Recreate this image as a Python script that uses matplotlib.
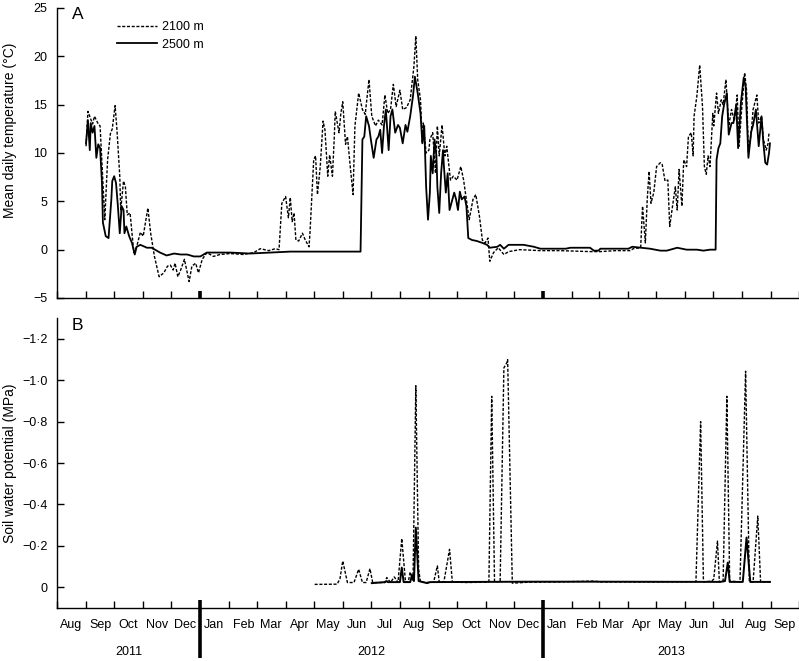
import matplotlib
matplotlib.use('Agg')
import matplotlib.pyplot as plt
import matplotlib.dates as mdates
import matplotlib.ticker as mticker
import numpy as np
import pandas as pd

plt.rcParams['font.family'] = ['Liberation Sans', 'DejaVu Sans']

# ---------------- data (days since 1 Aug 2011) ----------------
START = '2011-08-01'

t2100_days = [31, 33, 38, 40, 44, 46, 51, 54, 57, 59, 62, 64, 67, 68, 71, 73, 75, 78, 82, 85,
              89, 92, 97, 100, 104, 109, 114, 118, 121, 124, 126, 129, 132, 136, 141, 144, 148,
              151, 155, 160, 167, 174, 185, 199, 210, 217, 226, 233, 237, 240, 244, 247, 249,
              251, 253, 255, 258, 262, 265, 269, 270, 274, 276, 278, 281, 284, 286, 289, 291,
              294, 296, 297, 301, 303, 305, 308, 310, 313, 316, 318, 322, 326, 329, 333, 336,
              340, 343, 347, 350, 353, 356, 359, 362, 366, 369, 373, 377, 381, 383, 385, 388,
              390, 391, 394, 397, 398, 401, 404, 406, 408, 411, 414, 416, 420, 423, 427, 431,
              434, 438, 440, 444, 447, 451, 454, 457, 460, 462, 466, 471, 477, 482, 494, 516,
              537, 569, 580, 596, 612, 615, 623, 625, 628, 630, 632, 634, 637, 640, 644, 646,
              649, 652, 654, 657, 660, 662, 664, 667, 669, 672, 674, 677, 679, 680, 683, 686,
              689, 691, 693, 695, 697, 700, 701, 704, 706, 709, 711, 714, 717, 720, 723, 726,
              728, 731, 734, 736, 738, 741, 743, 747, 749, 752, 754, 757, 759, 760]
t2100_vals = [10.7, 14.3, 13.0, 13.8, 13.0, 12.8, 3.1, 9.3, 12.0, 12.5, 14.9, 12.4, 7.6, 4.1,
              7.1, 6.5, 3.6, 3.8, -0.3, 0.3, 1.8, 1.4, 4.3, 1.7, -0.7, -2.8, -2.4, -1.7, -1.6,
              -2.1, -1.4, -2.8, -2.1, -1.0, -3.3, -1.7, -1.4, -2.4, -1.0, -0.3, -0.7, -0.5,
              -0.4, -0.5, -0.3, 0.1, -0.1, 0.1, 0.0, 4.8, 5.5, 3.3, 5.4, 2.9, 3.8, 1.0, 0.9,
              1.7, 1.0, 0.3, 1.7, 9.3, 9.7, 5.7, 8.6, 13.3, 12.4, 7.6, 9.8, 7.6, 11.7, 14.3,
              12.1, 14.1, 15.3, 10.9, 11.7, 8.6, 5.7, 12.8, 16.2, 14.5, 14.0, 17.6, 13.8, 12.8,
              13.4, 12.9, 16.0, 14.1, 14.5, 17.1, 14.8, 16.5, 14.5, 14.7, 15.5, 19.0, 22.1,
              17.6, 15.5, 11.0, 13.1, 10.0, 10.3, 11.4, 12.1, 7.9, 12.8, 9.7, 12.9, 9.7, 10.7,
              7.2, 7.6, 7.2, 8.6, 7.2, 4.5, 3.1, 5.2, 5.7, 3.4, 1.0, 0.7, 1.2, -1.2, -0.3, 0.2,
              -0.5, -0.2, 0.0, -0.1, -0.1, -0.2, -0.2, -0.1, -0.1, 0.1, 0.2, 4.5, 0.7, 5.2,
              8.1, 4.8, 5.9, 8.6, 9.0, 8.8, 7.1, 7.2, 2.4, 4.5, 6.5, 4.1, 8.3, 4.5, 9.3, 8.6,
              11.7, 12.1, 9.7, 13.8, 15.9, 19.1, 14.8, 8.6, 7.8, 9.7, 8.6, 14.1, 12.8, 16.2,
              14.1, 15.5, 15.0, 17.6, 12.8, 14.5, 13.3, 16.0, 10.7, 14.8, 18.3, 16.5, 10.0,
              12.1, 14.5, 16.0, 13.1, 13.8, 11.4, 10.3, 11.0, 12.1]

t2500_days = [31, 33, 35, 36, 38, 40, 42, 44, 46, 48, 49, 52, 55, 58, 59, 61, 63, 65, 67, 69,
              71, 72, 74, 77, 80, 83, 85, 89, 96, 101, 110, 117, 125, 132, 139, 146, 153, 160,
              167, 185, 206, 228, 249, 270, 292, 319, 324, 326, 328, 330, 333, 335, 338, 341,
              343, 345, 347, 349, 351, 354, 356, 358, 361, 364, 366, 369, 372, 374, 377, 380,
              382, 385, 388, 390, 392, 394, 396, 398, 399, 401, 403, 405, 406, 408, 410, 412,
              413, 415, 417, 419, 422, 424, 426, 428, 430, 432, 435, 437, 439, 443, 448, 454,
              459, 462, 470, 473, 477, 482, 498, 509, 516, 543, 548, 569, 573, 578, 580, 610,
              614, 624, 633, 644, 651, 662, 672, 683, 690, 697, 703, 704, 706, 708, 710, 712,
              715, 717, 720, 722, 725, 727, 730, 733, 735, 738, 741, 743, 746, 749, 752, 754,
              756, 758, 760, 761]
t2500_vals = [11.0, 13.4, 10.3, 13.1, 12.1, 12.8, 9.5, 10.9, 10.5, 6.9, 2.8, 1.4, 1.2, 5.2,
              7.1, 7.6, 6.9, 4.5, 1.7, 4.5, 4.1, 1.7, 2.4, 1.4, 0.7, -0.5, 0.3, 0.5, 0.2, 0.2,
              -0.3, -0.6, -0.4, -0.5, -0.5, -0.7, -0.7, -0.3, -0.3, -0.3, -0.4, -0.3, -0.2,
              -0.2, -0.2, -0.2, -0.2, 11.4, 11.7, 13.8, 12.8, 11.4, 9.5, 11.4, 11.7, 12.4,
              10.0, 12.8, 14.5, 10.3, 13.8, 14.5, 12.1, 12.9, 12.6, 11.0, 12.9, 12.2, 13.8,
              15.9, 17.9, 16.2, 14.1, 11.0, 12.8, 6.5, 3.1, 5.9, 9.7, 7.9, 11.4, 9.7, 6.5,
              3.8, 7.9, 10.3, 8.6, 5.9, 7.9, 4.1, 5.2, 5.9, 5.2, 4.1, 6.0, 5.2, 5.5, 4.5, 1.2,
              1.0, 0.9, 0.7, 0.5, 0.2, 0.3, 0.5, 0.1, 0.5, 0.5, 0.3, 0.1, 0.1, 0.2, 0.2, -0.1,
              -0.1, 0.1, 0.1, 0.3, 0.2, 0.1, -0.1, -0.1, 0.2, 0.0, 0.0, -0.1, 0.0, 0.0, 9.3,
              10.5, 11.0, 13.8, 15.0, 16.2, 11.9, 13.1, 13.1, 15.0, 10.5, 15.2, 17.8, 16.9,
              9.5, 12.2, 12.9, 14.5, 10.7, 13.8, 11.0, 9.0, 8.8, 10.0, 11.0]

swp2100_days = [275, 299, 302, 305, 310, 317, 322, 326, 330, 334, 337, 350, 352, 356, 360, 364,
                368, 372, 375, 377, 380, 383, 386, 388, 398, 402, 406, 408, 413, 419, 422, 438,
                459, 461, 464, 467, 473, 477, 480, 481, 486, 505, 537, 573, 580, 633, 682, 687,
                690, 699, 701, 705, 707, 711, 715, 718, 729, 735, 739, 743, 748, 751, 761]
swp2100_vals = [-0.014, -0.015, -0.04, -0.127, -0.023, -0.023, -0.087, -0.023, -0.023, -0.09,
                -0.023, -0.023, -0.047, -0.023, -0.05, -0.024, -0.235, -0.025, -0.027, -0.074,
                -0.03, -0.973, -0.087, -0.025, -0.023, -0.025, -0.103, -0.025, -0.027, -0.183,
                -0.025, -0.023, -0.025, -0.027, -0.922, -0.027, -0.027, -1.059, -1.083, -1.099,
                -0.02, -0.025, -0.026, -0.03, -0.026, -0.026, -0.027, -0.80, -0.026, -0.03,
                -0.04, -0.223, -0.026, -0.03, -0.922, -0.03, -0.026, -1.043, -0.026, -0.026,
                -0.344, -0.026, -0.026]

swp2500_days = [336, 350, 352, 353, 366, 368, 370, 377, 379, 381, 383, 386, 395, 398, 505, 580,
                708, 713, 716, 718, 732, 736, 740, 761]
swp2500_vals = [-0.02, -0.025, -0.03, -0.025, -0.025, -0.095, -0.025, -0.025, -0.06, -0.03,
                -0.288, -0.03, -0.02, -0.025, -0.027, -0.027, -0.026, -0.03, -0.119, -0.026,
                -0.026, -0.24, -0.026, -0.026]

month_labels = ['Aug', 'Sep', 'Oct', 'Nov', 'Dec', 'Jan', 'Feb', 'Mar', 'Apr', 'May', 'Jun',
                'Jul', 'Aug', 'Sep', 'Oct', 'Nov', 'Dec', 'Jan', 'Feb', 'Mar', 'Apr', 'May',
                'Jun', 'Jul', 'Aug', 'Sep']
years = ['2011', '2012', '2013']


def to_dates(days):
    return pd.Timestamp(START) + pd.to_timedelta(np.asarray(days, dtype=float), unit='D')


# ---------------- figure ----------------
W, H = 799, 661
fig = plt.figure(figsize=(W / 100, H / 100), dpi=100)
axA = fig.add_axes([57 / W, (H - 298) / H, 742 / W, 290 / H])
axB = fig.add_axes([57 / W, (H - 608) / H, 742 / W, 290 / H])

dash = (0, (2.2, 1.2))
axA.plot(to_dates(t2100_days), t2100_vals, color='black', lw=1.0, linestyle=dash, label='2100 m')
axA.plot(to_dates(t2500_days), t2500_vals, color='black', lw=1.3, label='2500 m')
axB.plot(to_dates(swp2100_days), swp2100_vals, color='black', lw=1.0, linestyle=dash)
axB.plot(to_dates(swp2500_days), swp2500_vals, color='black', lw=1.4)

xmin, xmax = pd.Timestamp('2011-08-01'), pd.Timestamp('2013-10-01')
jan_lines = [pd.Timestamp('2012-01-01'), pd.Timestamp('2013-01-01')]

# month labels at mid-month on bottom panel
mids = pd.date_range('2011-08-01', periods=len(month_labels), freq='MS') + pd.Timedelta(days=15)
axB.set_xticks(mids, minor=True)
axB.set_xticklabels(month_labels, minor=True)
axB.tick_params(axis='x', which='minor', length=0, pad=8, labelsize=9)

for ax in (axA, axB):
    for s in ('top', 'right'):
        ax.spines[s].set_visible(False)
    for s in ('left', 'bottom'):
        ax.spines[s].set_linewidth(1.0)
    ax.xaxis.set_major_locator(mdates.MonthLocator(bymonth=[2, 3, 4, 5, 6, 7, 8, 9, 10, 11, 12]))
    ax.xaxis.set_major_formatter(mticker.NullFormatter())
    ax.tick_params(axis='x', which='major', direction='in', length=5, width=1.0)
    ax.tick_params(axis='y', which='major', direction='in', length=5, width=1.0, pad=7,
                   labelsize=9)
    ax.set_xlim(xmin, xmax)

# thick year-boundary marks
for d in jan_lines:
    axA.plot([d, d], [0, 7 / 290], transform=axA.get_xaxis_transform(), color='black',
             lw=2.6, clip_on=False, solid_capstyle='butt')
    axB.plot([d, d], [8 / 290, -50 / 290], transform=axB.get_xaxis_transform(), color='black',
             lw=2.6, clip_on=False, solid_capstyle='butt')

# year labels
year_spans = [('2011-08-01', '2012-01-01'), ('2012-01-01', '2013-01-01'), ('2013-01-01', '2013-10-01')]
for lab, (a, b) in zip(years, year_spans):
    mid = pd.Timestamp(a) + (pd.Timestamp(b) - pd.Timestamp(a)) / 2
    axB.text(mid, -44 / 290, lab, transform=axB.get_xaxis_transform(), ha='center', va='center',
             fontsize=9)

# y axes
axA.set_ylim(-5, 25)
axA.set_yticks([-5, 0, 5, 10, 15, 20, 25])
axA.yaxis.set_major_formatter(mticker.FuncFormatter(lambda v, p: f'{v:.0f}'.replace('-', '\u2212')))
axA.set_ylabel('Mean daily temperature (\u00b0C)', fontsize=10)
axA.yaxis.set_label_coords(-40 / 742, (298 - 130) / 290)

axB.set_ylim(0.1, -1.3)
axB.set_yticks([0, -0.2, -0.4, -0.6, -0.8, -1.0, -1.2])


def swp_fmt(v, p):
    if abs(v) < 1e-9:
        return '0'
    return f'{v:.1f}'.replace('-', '\u2212').replace('.', '\u00b7')


axB.yaxis.set_major_formatter(mticker.FuncFormatter(swp_fmt))
axB.set_ylabel('Soil water potential (MPa)', fontsize=10)
axB.yaxis.set_label_coords(-40 / 742, 0.5)

# panel letters
axA.text(15 / 742, 1 - 7 / 290, 'A', transform=axA.transAxes, fontsize=12.5, va='center', ha='left')
axB.text(15 / 742, 1 - 7 / 290, 'B', transform=axB.transAxes, fontsize=12.5, va='center', ha='left')

leg = axA.legend(loc='upper left', bbox_to_anchor=(55 / 742, 1 - 8 / 290), frameon=False,
                 fontsize=9, handlelength=3.2, handletextpad=0.4, labelspacing=0.45,
                 borderaxespad=0)

fig.savefig('out.png', dpi=100)
